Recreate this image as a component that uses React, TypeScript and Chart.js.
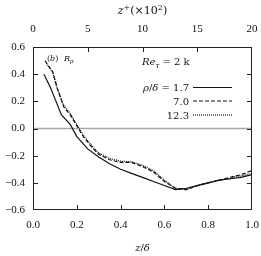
import React, { useEffect, useRef } from "react";
import { Chart, registerables } from "chart.js";

Chart.register(...registerables);

// z/delta positions and correlation values for each rho/delta
const xSolid = [0.05, 0.08, 0.10, 0.13, 0.17, 0.20, 0.25, 0.30, 0.35, 0.40, 0.45, 0.50, 0.55, 0.60, 0.65, 0.70, 0.75, 0.80, 0.85, 0.90, 0.95, 1.00];
const rSolid = [0.40, 0.30, 0.22, 0.10, 0.03, -0.06, -0.15, -0.21, -0.26, -0.30, -0.33, -0.36, -0.39, -0.42, -0.45, -0.44, -0.42, -0.40, -0.38, -0.37, -0.36, -0.34];

const xDashed = [0.055, 0.07, 0.09, 0.11, 0.14, 0.17, 0.20, 0.23, 0.27, 0.30, 0.35, 0.40, 0.45, 0.50, 0.55, 0.60, 0.65, 0.70, 0.75, 0.80, 0.85, 0.90, 0.95, 1.00];
const rDashed = [0.50, 0.46, 0.42, 0.30, 0.16, 0.10, 0.02, -0.06, -0.14, -0.19, -0.23, -0.25, -0.25, -0.28, -0.32, -0.39, -0.44, -0.45, -0.42, -0.40, -0.38, -0.36, -0.34, -0.31];

const xDotted = [0.06, 0.075, 0.09, 0.11, 0.14, 0.17, 0.20, 0.23, 0.27, 0.30, 0.35, 0.40, 0.45, 0.50, 0.55, 0.60, 0.65, 0.70, 0.75, 0.80, 0.85, 0.90, 0.93, 0.95, 1.00];
const rDotted = [0.48, 0.45, 0.41, 0.30, 0.17, 0.11, 0.03, -0.05, -0.13, -0.18, -0.22, -0.24, -0.245, -0.27, -0.31, -0.38, -0.44, -0.45, -0.42, -0.40, -0.38, -0.37, -0.35, -0.35, -0.33];

const seriesLabels = ["1.7", "7.0", "12.3"];
const bottomTicks = [0.2, 0.4, 0.6, 0.8];
const topTicks = [5, 10, 15];
const sideTicks = [-0.4, -0.2, 0, 0.2, 0.4];

const SERIF = "'Liberation Serif', 'DejaVu Serif', serif";
const WIDE = "'DejaVu Serif', serif";

type Part = { t: string; it?: boolean; sub?: boolean; sup?: boolean };

function drawRich(ctx: CanvasRenderingContext2D, parts: Part[], x: number, y: number, align: "left" | "right" | "center", size = 10) {
  const fontFor = (p: Part) => `${p.it ? "italic " : ""}${p.sub || p.sup ? Math.round(size * 0.72) : size}px ${WIDE}`;
  let total = 0;
  for (const p of parts) {
    ctx.font = fontFor(p);
    total += ctx.measureText(p.t).width;
  }
  let cx = align === "left" ? x : align === "right" ? x - total : x - total / 2;
  ctx.textBaseline = "alphabetic";
  ctx.textAlign = "left";
  for (const p of parts) {
    ctx.font = fontFor(p);
    const dy = p.sub ? size * 0.25 : p.sup ? -size * 0.38 : 0;
    ctx.fillText(p.t, cx, y + dy);
    cx += ctx.measureText(p.t).width;
  }
}

const decorPlugin = {
  id: "decor",
  beforeDatasetsDraw(chart: any) {
    const { ctx, chartArea: a, scales } = chart;
    const y0 = scales.y.getPixelForValue(0);
    ctx.save();
    ctx.strokeStyle = "#a8a8a8";
    ctx.lineWidth = 1.5;
    ctx.beginPath();
    ctx.moveTo(a.left, y0);
    ctx.lineTo(a.right, y0);
    ctx.stroke();
    ctx.restore();
  },
  afterDraw(chart: any) {
    const { ctx, chartArea: a, scales } = chart;
    ctx.save();
    ctx.strokeStyle = "#222";
    ctx.lineWidth = 1;
    ctx.strokeRect(a.left + 0.5, a.top + 0.5, a.right - a.left - 1, a.bottom - a.top - 1);
    const tl = 5;
    ctx.beginPath();
    for (const v of bottomTicks) {
      const px = Math.round(scales.x.getPixelForValue(v)) + 0.5;
      ctx.moveTo(px, a.bottom);
      ctx.lineTo(px, a.bottom - tl);
    }
    for (const v of topTicks) {
      const px = Math.round(scales.x2.getPixelForValue(v)) + 0.5;
      ctx.moveTo(px, a.top);
      ctx.lineTo(px, a.top + tl);
    }
    for (const v of sideTicks) {
      const py = Math.round(scales.y.getPixelForValue(v)) + 0.5;
      ctx.moveTo(a.left, py);
      ctx.lineTo(a.left + tl, py);
      ctx.moveTo(a.right, py);
      ctx.lineTo(a.right - tl, py);
    }
    ctx.stroke();

    ctx.fillStyle = "#111";
    const cxm = (a.left + a.right) / 2;
    // top title
    drawRich(ctx, [{ t: "z", it: true }, { t: "+", sup: true }, { t: "(×10" }, { t: "2", sup: true }, { t: ")" }], cxm, 14, "center", 11);
    // bottom title
    drawRich(ctx, [{ t: "z", it: true }, { t: "/" }, { t: "δ", it: true }], cxm, 251, "center", 10);
    // panel label
    drawRich(ctx, [{ t: "(" }, { t: "b", it: true }, { t: ") " }], 47, 61, "left", 8);
    drawRich(ctx, [{ t: "R", it: true }, { t: "ρ", it: true, sub: true }], 64, 61, "left", 8);
    // legend
    drawRich(ctx, [{ t: "Re", it: true }, { t: "τ", it: true, sub: true }, { t: " = 2 k" }], 142, 65, "left", 10);
    const rows = [
      { y: 87.5, label: [{ t: "ρ", it: true }, { t: "/" }, { t: "δ", it: true }, { t: " = " + seriesLabels[0] }], dash: [] as number[] },
      { y: 101, label: [{ t: seriesLabels[1] }], dash: [4, 2] },
      { y: 115, label: [{ t: seriesLabels[2] }], dash: [1, 1] },
    ];
    for (const r of rows) {
      drawRich(ctx, r.label as Part[], 189, r.y + 3.5, "right", 10);
      ctx.save();
      ctx.strokeStyle = "#111";
      ctx.lineWidth = 1.2;
      ctx.setLineDash(r.dash);
      ctx.beginPath();
      ctx.moveTo(193, r.y);
      ctx.lineTo(232, r.y);
      ctx.stroke();
      ctx.restore();
    }
    ctx.restore();
  },
};

const fmt = (v: number) => {
  const n = Math.abs(v) < 1e-9 ? 0 : v;
  return n.toFixed(1).replace("-", "−");
};

export default function App() {
  const ref = useRef<HTMLCanvasElement>(null);
  useEffect(() => {
    if (!ref.current) return;
    const mk = (xs: number[], ys: number[]) => xs.map((x, i) => ({ x, y: ys[i] }));
    const common = { pointRadius: 0, borderColor: "#111", borderWidth: 1.2, tension: 0, fill: false };
    const chart = new Chart(ref.current, {
      type: "line",
      data: {
        datasets: [
          { label: seriesLabels[0], data: mk(xSolid, rSolid), ...common },
          { label: seriesLabels[1], data: mk(xDashed, rDashed), ...common, borderDash: [4, 2] },
          { label: seriesLabels[2], data: mk(xDotted, rDotted), ...common, borderDash: [1, 1] },
        ],
      },
      options: {
        animation: false,
        responsive: false,
        layout: { padding: { left: 0, right: 9, top: 0, bottom: 0 } },
        plugins: { legend: { display: false }, tooltip: { enabled: false } },
        scales: {
          x: {
            type: "linear",
            position: "bottom",
            min: 0,
            max: 1,
            grid: { display: false, drawTicks: false },
            border: { display: false },
            ticks: { stepSize: 0.2, padding: 9, color: "#111", font: { family: SERIF, size: 11 }, callback: (v: any) => fmt(Number(v)) },
            afterFit: (s: any) => { s.height = 46; s.paddingLeft = 0; s.paddingRight = 0; },
          },
          x2: {
            type: "linear",
            axis: "x",
            position: "top",
            min: 0,
            max: 20,
            grid: { display: false, drawTicks: false },
            border: { display: false },
            ticks: { stepSize: 5, padding: 11, color: "#111", font: { family: SERIF, size: 11 } },
            afterFit: (s: any) => { s.height = 47; s.paddingLeft = 0; s.paddingRight = 0; },
          },
          y: {
            type: "linear",
            min: -0.6,
            max: 0.6,
            grid: { display: false, drawTicks: false },
            border: { display: false },
            ticks: { stepSize: 0.2, padding: 8, color: "#111", font: { family: SERIF, size: 11 }, callback: (v: any) => fmt(Number(v)) },
            afterFit: (s: any) => { s.width = 33; s.paddingTop = 0; s.paddingBottom = 0; },
          },
        },
      } as any,
      plugins: [decorPlugin],
    });
    return () => chart.destroy();
  }, []);
  return (
    <div style={{ position: "absolute", left: 0, top: 0, width: 261, height: 256, background: "#fff" }}>
      <canvas ref={ref} width={261} height={256} />
    </div>
  );
}
